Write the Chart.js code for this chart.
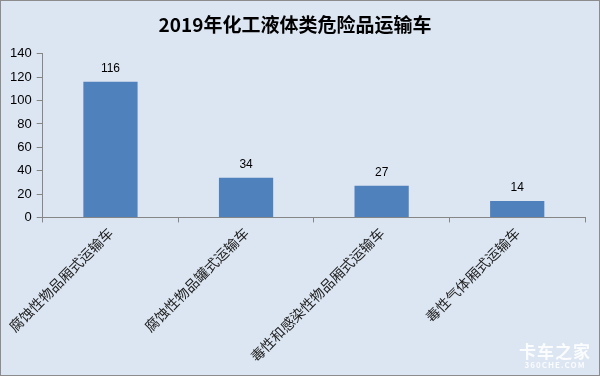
<!DOCTYPE html>
<html>
<head>
<meta charset="utf-8">
<script src="https://cdn.jsdelivr.net/npm/chart.js@4/dist/chart.umd.min.js"></script>
<style>
  html, body { margin: 0; padding: 0; background: #fff; }
  .wrap { position: relative; width: 598px; height: 374px; border: 1px solid #8c8c8c; background: #dce6f2; }
  .mark { position: absolute; right: 8px; bottom: 6px; text-align: center; color: rgba(255,255,255,0.85);
          font-family: "Noto Sans CJK SC", sans-serif; font-weight: bold; line-height: 1; }
  .mark .a { font-size: 17px; letter-spacing: 1px; }
  .mark .b { font-size: 8px; letter-spacing: 1px; margin-top: 2px; }
</style>
</head>
<body>
<div class="wrap">
  <canvas id="truckChart" width="598" height="374"></canvas>
  <div class="mark"><div class="a">卡车之家</div><div class="b">360CHE.COM</div></div>
</div>
<script>
const categories = ['腐蚀性物品厢式运输车', '腐蚀性物品罐式运输车', '毒性和感染性物品厢式运输车', '毒性气体厢式运输车'];
const counts = [116, 34, 27, 14];
const chartTitle = '2019年化工液体类危险品运输车';

// draw the number above each bar
const valueLabels = {
    id: 'valueLabels',
    afterDatasetsDraw(chart) {
        const ctx = chart.ctx;
        const meta = chart.getDatasetMeta(0);
        ctx.save();
        ctx.font = '12px "Liberation Sans", Arial, sans-serif';
        ctx.fillStyle = '#000';
        ctx.textAlign = 'center';
        ctx.textBaseline = 'bottom';
        meta.data.forEach((bar, i) => {
            ctx.fillText(counts[i], bar.x, bar.y - 7);
        });
        ctx.restore();
    }
};

const ctx = document.getElementById('truckChart').getContext('2d');
new Chart(ctx, {
    type: 'bar',
    data: {
        labels: categories,
        datasets: [{
            data: counts,
            backgroundColor: '#4f81bd',
            categoryPercentage: 0.4,
            barPercentage: 1
        }]
    },
    options: {
        responsive: false,
        animation: false,
        layout: { padding: { left: 4, right: 14, bottom: 8, top: 0 } },
        plugins: {
            legend: { display: false },
            tooltip: { enabled: false },
            title: {
                display: true,
                text: chartTitle,
                color: '#000',
                font: { family: '"Noto Sans CJK SC", sans-serif', size: 19, weight: 'bold' },
                padding: { top: 12, bottom: 18 }
            }
        },
        scales: {
            x: {
                border: { color: '#868686' },
                grid: { display: true, drawOnChartArea: false, tickLength: 5, color: '#868686', offset: true },
                ticks: {
                    minRotation: 45, maxRotation: 45, color: '#222',
                    font: { family: '"Noto Sans CJK SC", serif', size: 14 },
                    padding: 2
                }
            },
            y: {
                min: 0, max: 140,
                border: { color: '#868686' },
                grid: { display: true, drawOnChartArea: false, tickLength: 6, color: '#868686' },
                ticks: {
                    stepSize: 20, color: '#000', padding: 5,
                    font: { family: '"Liberation Sans", Arial, sans-serif', size: 13 }
                }
            }
        }
    },
    plugins: [valueLabels]
});
</script>
</body>
</html>
